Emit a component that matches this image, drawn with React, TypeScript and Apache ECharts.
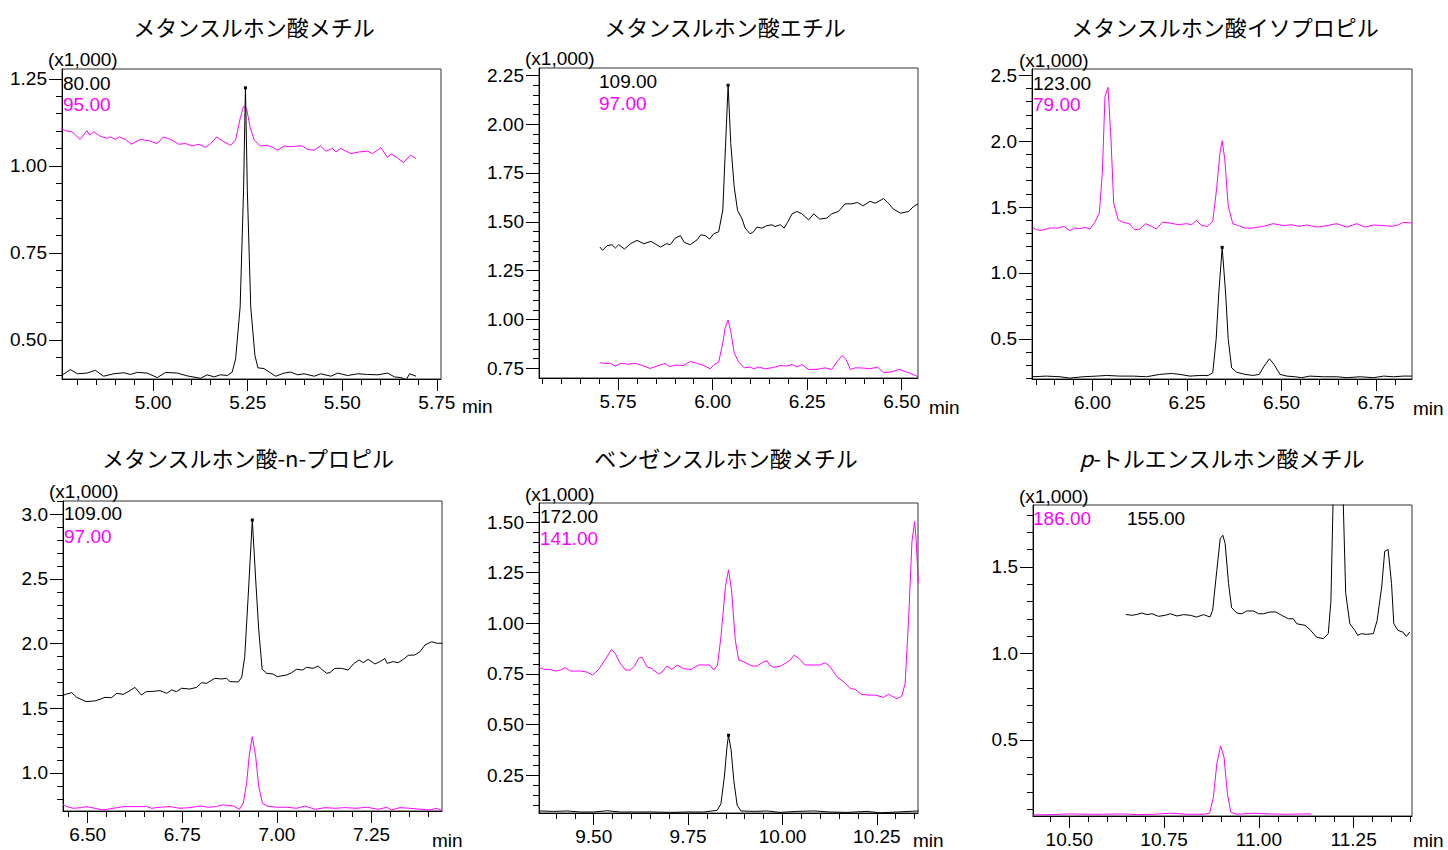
import React, { useEffect, useRef } from "react";
import * as echarts from "echarts";

// ---------- titles / labels ----------
const titles = [
  "メタンスルホン酸メチル",
  "メタンスルホン酸エチル",
  "メタンスルホン酸イソプロピル",
  "メタンスルホン酸-n-プロピル",
  "ベンゼンスルホン酸メチル",
  "{i|p}-トルエンスルホン酸メチル",
];
const multiplierLabel = "(x1,000)";
const blackIons = ["80.00", "109.00", "123.00", "109.00", "172.00", "155.00"];
const magentaIons = ["95.00", "97.00", "79.00", "97.00", "141.00", "186.00"];

// ---------- axis ranges & tick labels ----------
const xRanges = [
  [4.759, 5.761],
  [5.541, 6.543],
  [5.84, 6.845],
  [6.435, 7.436],
  [9.355, 10.359],
  [10.404, 11.404],
];
const yRanges = [
  [0.388, 1.278],
  [0.701, 2.287],
  [0.195, 2.548],
  [0.706, 3.103],
  [0.063, 1.594],
  [0.061, 1.857],
];
const xTickLabels = [
  [5.0, 5.25, 5.5, 5.75],
  [5.75, 6.0, 6.25, 6.5],
  [6.0, 6.25, 6.5, 6.75],
  [6.5, 6.75, 7.0, 7.25],
  [9.5, 9.75, 10.0, 10.25],
  [10.5, 10.75, 11.0, 11.25],
];
const yTickLabels = [
  [0.5, 0.75, 1.0, 1.25],
  [0.75, 1.0, 1.25, 1.5, 1.75, 2.0, 2.25],
  [0.5, 1.0, 1.5, 2.0, 2.5],
  [1.0, 1.5, 2.0, 2.5, 3.0],
  [0.25, 0.5, 0.75, 1.0, 1.25, 1.5],
  [0.5, 1.0, 1.5],
];
const yDecimals = [2, 2, 1, 1, 2, 1];
const yMinorStep = [0.05, 0.05, 0.1, 0.1, 0.05, 0.1];
const xMinorStep = 0.05;

// ---------- series data [min, intensity x1000] ----------
const p1Black = [
  [4.758, 0.398], [4.781, 0.415], [4.8, 0.403], [4.825, 0.405], [4.847, 0.413], [4.869, 0.396],
  [4.896, 0.403], [4.922, 0.406], [4.94, 0.401], [4.958, 0.407], [4.984, 0.405], [5.011, 0.392],
  [5.033, 0.407], [5.064, 0.405], [5.09, 0.397], [5.125, 0.39], [5.143, 0.4], [5.161, 0.394],
  [5.178, 0.4], [5.196, 0.398], [5.209, 0.408], [5.218, 0.446], [5.23, 0.595], [5.239, 0.93],
  [5.244, 1.224], [5.249, 0.93], [5.258, 0.595], [5.269, 0.456], [5.277, 0.42], [5.293, 0.418],
  [5.307, 0.408], [5.324, 0.396], [5.346, 0.405], [5.364, 0.408], [5.382, 0.4], [5.399, 0.403],
  [5.426, 0.396], [5.443, 0.403], [5.47, 0.396], [5.488, 0.405], [5.514, 0.398], [5.541, 0.403],
  [5.567, 0.401], [5.594, 0.4], [5.62, 0.405], [5.638, 0.394], [5.655, 0.392], [5.669, 0.386],
  [5.678, 0.403], [5.695, 0.396],
];
const p1Magenta = [
  [4.758, 1.107], [4.768, 1.101], [4.785, 1.098], [4.807, 1.076], [4.825, 1.101], [4.832, 1.088],
  [4.843, 1.098], [4.86, 1.085], [4.878, 1.079], [4.887, 1.083], [4.9, 1.076], [4.911, 1.083],
  [4.927, 1.076], [4.942, 1.062], [4.966, 1.076], [4.989, 1.072], [5.011, 1.064], [5.027, 1.083],
  [5.046, 1.076], [5.068, 1.062], [5.086, 1.064], [5.103, 1.057], [5.121, 1.062], [5.139, 1.053],
  [5.152, 1.064], [5.168, 1.083], [5.187, 1.069], [5.205, 1.059], [5.218, 1.074], [5.23, 1.136],
  [5.239, 1.171], [5.247, 1.165], [5.256, 1.112], [5.267, 1.074], [5.283, 1.057], [5.302, 1.059],
  [5.316, 1.053], [5.329, 1.045], [5.346, 1.057], [5.364, 1.055], [5.382, 1.057], [5.395, 1.057],
  [5.408, 1.047], [5.426, 1.045], [5.442, 1.057], [5.457, 1.042], [5.474, 1.05], [5.483, 1.04],
  [5.496, 1.05], [5.523, 1.035], [5.545, 1.04], [5.567, 1.042], [5.58, 1.035], [5.602, 1.052],
  [5.62, 1.024], [5.629, 1.034], [5.642, 1.026], [5.662, 1.009], [5.68, 1.031], [5.695, 1.021],
];
const p2Black = [
  [5.702, 1.371], [5.709, 1.354], [5.721, 1.378], [5.734, 1.383], [5.743, 1.366], [5.752, 1.383],
  [5.767, 1.361], [5.783, 1.388], [5.8, 1.405], [5.818, 1.388], [5.837, 1.4], [5.862, 1.371],
  [5.878, 1.388], [5.888, 1.383], [5.901, 1.417], [5.915, 1.429], [5.925, 1.395], [5.941, 1.383],
  [5.959, 1.408], [5.969, 1.434], [5.981, 1.429], [5.992, 1.412], [6.003, 1.439], [6.016, 1.449],
  [6.027, 1.561], [6.034, 1.884], [6.041, 2.199], [6.048, 1.901], [6.057, 1.68], [6.066, 1.558],
  [6.077, 1.519], [6.086, 1.468], [6.099, 1.439], [6.108, 1.449], [6.117, 1.473], [6.13, 1.468],
  [6.143, 1.48], [6.157, 1.485], [6.165, 1.476], [6.179, 1.485], [6.189, 1.468], [6.198, 1.497],
  [6.21, 1.541], [6.223, 1.553], [6.236, 1.541], [6.254, 1.51], [6.267, 1.541], [6.283, 1.514],
  [6.302, 1.519], [6.315, 1.541], [6.333, 1.553], [6.35, 1.592], [6.368, 1.592], [6.383, 1.599],
  [6.398, 1.582], [6.416, 1.605], [6.43, 1.595], [6.452, 1.619], [6.465, 1.595], [6.478, 1.565],
  [6.497, 1.544], [6.518, 1.553], [6.531, 1.578], [6.543, 1.592],
];
const p2Magenta = [
  [5.702, 0.779], [5.712, 0.776], [5.73, 0.776], [5.743, 0.762], [5.756, 0.776], [5.778, 0.772],
  [5.796, 0.776], [5.818, 0.762], [5.835, 0.75], [5.853, 0.762], [5.875, 0.776], [5.886, 0.759],
  [5.901, 0.767], [5.923, 0.765], [5.941, 0.786], [5.959, 0.776], [5.976, 0.765], [5.994, 0.748],
  [6.004, 0.77], [6.016, 0.782], [6.027, 0.881], [6.033, 0.957], [6.041, 0.997], [6.048, 0.94],
  [6.057, 0.83], [6.069, 0.782], [6.084, 0.753], [6.099, 0.757], [6.109, 0.748], [6.121, 0.757],
  [6.139, 0.748], [6.161, 0.755], [6.179, 0.765], [6.196, 0.762], [6.21, 0.77], [6.223, 0.757],
  [6.236, 0.77], [6.254, 0.745], [6.276, 0.745], [6.298, 0.753], [6.315, 0.745], [6.33, 0.787],
  [6.342, 0.816], [6.353, 0.796], [6.364, 0.745], [6.377, 0.753], [6.399, 0.752], [6.416, 0.748],
  [6.436, 0.757], [6.452, 0.728], [6.474, 0.733], [6.494, 0.745], [6.513, 0.731], [6.531, 0.719],
  [6.543, 0.707],
];
const p3Black = [
  [5.841, 0.212], [5.878, 0.217], [5.914, 0.212], [5.94, 0.202], [5.975, 0.212], [6.011, 0.217],
  [6.037, 0.222], [6.072, 0.217], [6.108, 0.217], [6.143, 0.212], [6.178, 0.23], [6.209, 0.237],
  [6.231, 0.23], [6.258, 0.217], [6.284, 0.222], [6.306, 0.222], [6.318, 0.242], [6.327, 0.495],
  [6.334, 0.848], [6.343, 1.194], [6.352, 0.848], [6.359, 0.495], [6.368, 0.28], [6.381, 0.247],
  [6.403, 0.23], [6.425, 0.222], [6.441, 0.23], [6.454, 0.293], [6.468, 0.348], [6.48, 0.306],
  [6.496, 0.23], [6.514, 0.217], [6.536, 0.212], [6.553, 0.205], [6.575, 0.217], [6.611, 0.212],
  [6.646, 0.212], [6.673, 0.205], [6.708, 0.212], [6.743, 0.205], [6.77, 0.217], [6.796, 0.212],
  [6.822, 0.217], [6.845, 0.217],
];
const p3Magenta = [
  [5.841, 1.348], [5.852, 1.328], [5.865, 1.323], [5.887, 1.341], [5.909, 1.341], [5.924, 1.354],
  [5.94, 1.321], [5.953, 1.341], [5.966, 1.336], [5.98, 1.346], [5.993, 1.333], [6.006, 1.384],
  [6.018, 1.455], [6.026, 1.758], [6.033, 2.338], [6.041, 2.409], [6.049, 2.01], [6.056, 1.53],
  [6.068, 1.404], [6.081, 1.384], [6.097, 1.374], [6.112, 1.328], [6.125, 1.333], [6.141, 1.374],
  [6.156, 1.354], [6.169, 1.333], [6.185, 1.386], [6.205, 1.379], [6.227, 1.366], [6.249, 1.374],
  [6.262, 1.366], [6.275, 1.399], [6.289, 1.359], [6.304, 1.354], [6.318, 1.391], [6.328, 1.631],
  [6.337, 1.909], [6.343, 2.003], [6.35, 1.859], [6.359, 1.505], [6.371, 1.374], [6.386, 1.359],
  [6.403, 1.341], [6.425, 1.341], [6.452, 1.354], [6.478, 1.374], [6.505, 1.359], [6.527, 1.366],
  [6.545, 1.354], [6.567, 1.364], [6.593, 1.348], [6.62, 1.359], [6.646, 1.374], [6.673, 1.348],
  [6.699, 1.374], [6.721, 1.348], [6.743, 1.364], [6.77, 1.359], [6.792, 1.354], [6.809, 1.366],
  [6.822, 1.384], [6.845, 1.379],
];
const p4Black = [
  [6.435, 1.6], [6.445, 1.611], [6.458, 1.621], [6.471, 1.585], [6.496, 1.552], [6.519, 1.557],
  [6.533, 1.57], [6.546, 1.585], [6.563, 1.582], [6.577, 1.616], [6.594, 1.608], [6.612, 1.637],
  [6.625, 1.662], [6.642, 1.603], [6.655, 1.629], [6.673, 1.631], [6.691, 1.637], [6.709, 1.616],
  [6.722, 1.642], [6.735, 1.629], [6.748, 1.655], [6.77, 1.649], [6.788, 1.662], [6.801, 1.698],
  [6.814, 1.693], [6.836, 1.732], [6.854, 1.727], [6.867, 1.732], [6.876, 1.706], [6.898, 1.704],
  [6.907, 1.74], [6.915, 1.899], [6.924, 2.363], [6.935, 2.956], [6.944, 2.492], [6.952, 2.106],
  [6.961, 1.802], [6.973, 1.771], [6.99, 1.765], [7.001, 1.745], [7.026, 1.758], [7.039, 1.776],
  [7.052, 1.802], [7.068, 1.796], [7.078, 1.817], [7.096, 1.809], [7.109, 1.827], [7.118, 1.802],
  [7.131, 1.771], [7.14, 1.776], [7.153, 1.809], [7.171, 1.809], [7.188, 1.796], [7.202, 1.843],
  [7.217, 1.874], [7.228, 1.853], [7.241, 1.879], [7.259, 1.843], [7.272, 1.861], [7.285, 1.884],
  [7.291, 1.848], [7.307, 1.861], [7.32, 1.853], [7.334, 1.879], [7.347, 1.91], [7.364, 1.912],
  [7.378, 1.938], [7.391, 1.99], [7.409, 2.015], [7.422, 2.003], [7.437, 2.003],
];
const p4Magenta = [
  [6.435, 0.758], [6.445, 0.74], [6.462, 0.727], [6.484, 0.732], [6.497, 0.74], [6.519, 0.727],
  [6.541, 0.714], [6.568, 0.727], [6.594, 0.74], [6.621, 0.74], [6.656, 0.74], [6.669, 0.727],
  [6.691, 0.735], [6.718, 0.74], [6.744, 0.727], [6.77, 0.732], [6.801, 0.745], [6.818, 0.735],
  [6.84, 0.74], [6.858, 0.753], [6.885, 0.745], [6.901, 0.719], [6.911, 0.765], [6.92, 0.92],
  [6.927, 1.139], [6.935, 1.281], [6.944, 1.126], [6.952, 0.894], [6.962, 0.765], [6.973, 0.745],
  [6.999, 0.735], [7.026, 0.735], [7.052, 0.727], [7.074, 0.745], [7.101, 0.719], [7.127, 0.732],
  [7.153, 0.727], [7.18, 0.732], [7.21, 0.727], [7.237, 0.735], [7.268, 0.719], [7.29, 0.735],
  [7.303, 0.714], [7.325, 0.732], [7.351, 0.727], [7.382, 0.719], [7.404, 0.714], [7.422, 0.727],
  [7.437, 0.709],
];
const p5Black = [
  [9.355, 0.073], [9.394, 0.071], [9.429, 0.073], [9.465, 0.068], [9.5, 0.068], [9.535, 0.074],
  [9.571, 0.068], [9.615, 0.068], [9.659, 0.068], [9.703, 0.066], [9.747, 0.068], [9.791, 0.068],
  [9.827, 0.076], [9.837, 0.109], [9.846, 0.241], [9.853, 0.389], [9.857, 0.447], [9.864, 0.373],
  [9.871, 0.224], [9.88, 0.101], [9.89, 0.073], [9.924, 0.071], [9.959, 0.073], [9.994, 0.066],
  [10.038, 0.071], [10.083, 0.073], [10.127, 0.068], [10.171, 0.066], [10.224, 0.071], [10.259, 0.064],
  [10.303, 0.068], [10.36, 0.073],
];
const p5Magenta = [
  [9.355, 0.782], [9.368, 0.772], [9.385, 0.772], [9.399, 0.764], [9.412, 0.769], [9.425, 0.781],
  [9.438, 0.764], [9.465, 0.764], [9.482, 0.759], [9.497, 0.744], [9.513, 0.772], [9.531, 0.822],
  [9.547, 0.871], [9.557, 0.851], [9.569, 0.805], [9.584, 0.769], [9.597, 0.769], [9.608, 0.789],
  [9.619, 0.827], [9.628, 0.832], [9.641, 0.785], [9.654, 0.777], [9.672, 0.749], [9.681, 0.759],
  [9.694, 0.789], [9.707, 0.772], [9.721, 0.794], [9.738, 0.776], [9.758, 0.772], [9.778, 0.794],
  [9.791, 0.794], [9.807, 0.794], [9.818, 0.769], [9.828, 0.794], [9.837, 0.934], [9.849, 1.182],
  [9.857, 1.264], [9.865, 1.165], [9.875, 0.917], [9.884, 0.818], [9.897, 0.81], [9.919, 0.789],
  [9.933, 0.789], [9.946, 0.805], [9.959, 0.815], [9.966, 0.794], [9.977, 0.782], [9.996, 0.789],
  [10.01, 0.805], [10.019, 0.815], [10.031, 0.843], [10.043, 0.827], [10.06, 0.794], [10.083, 0.794],
  [10.1, 0.794], [10.113, 0.805], [10.125, 0.789], [10.144, 0.736], [10.162, 0.711], [10.18, 0.678],
  [10.193, 0.673], [10.208, 0.65], [10.228, 0.645], [10.246, 0.645], [10.268, 0.634], [10.281, 0.65],
  [10.29, 0.64], [10.303, 0.627], [10.316, 0.64], [10.325, 0.703], [10.334, 1.017], [10.343, 1.404],
  [10.35, 1.503], [10.354, 1.413], [10.36, 1.198],
];
const p6Black = [
  [10.649, 1.225], [10.665, 1.22], [10.678, 1.225], [10.691, 1.233], [10.705, 1.224], [10.718, 1.229],
  [10.735, 1.214], [10.753, 1.22], [10.766, 1.229], [10.784, 1.216], [10.801, 1.224], [10.819, 1.22],
  [10.836, 1.21], [10.854, 1.224], [10.871, 1.21], [10.878, 1.249], [10.889, 1.48], [10.898, 1.663],
  [10.905, 1.682], [10.911, 1.634], [10.92, 1.403], [10.928, 1.264], [10.942, 1.233], [10.955, 1.229],
  [10.968, 1.245], [10.986, 1.245], [10.999, 1.229], [11.012, 1.229], [11.029, 1.239], [11.045, 1.239],
  [11.06, 1.22], [11.078, 1.2], [11.091, 1.2], [11.1, 1.171], [11.122, 1.162], [11.135, 1.137],
  [11.152, 1.094], [11.17, 1.085], [11.183, 1.114], [11.19, 1.3], [11.197, 2.0], [11.209, 2.6],
  [11.221, 2.0], [11.229, 1.35], [11.24, 1.171], [11.253, 1.133], [11.261, 1.104], [11.27, 1.114],
  [11.284, 1.11], [11.302, 1.114], [11.312, 1.191], [11.324, 1.383], [11.332, 1.59], [11.341, 1.6],
  [11.35, 1.403], [11.356, 1.171], [11.367, 1.133], [11.38, 1.123], [11.389, 1.098], [11.398, 1.123],
];
const p6Magenta = [
  [10.404, 0.067], [10.45, 0.069], [10.503, 0.073], [10.547, 0.071], [10.59, 0.071], [10.643, 0.073],
  [10.678, 0.069], [10.722, 0.071], [10.766, 0.077], [10.81, 0.071], [10.854, 0.071], [10.87, 0.077],
  [10.88, 0.17], [10.889, 0.362], [10.899, 0.466], [10.908, 0.401], [10.917, 0.189], [10.926, 0.083],
  [10.942, 0.071], [10.986, 0.077], [11.029, 0.073], [11.073, 0.071], [11.117, 0.073], [11.139, 0.073],
];

const blackSeries = [p1Black, p2Black, p3Black, p4Black, p5Black, p6Black];
const magentaSeries = [p1Magenta, p2Magenta, p3Magenta, p4Magenta, p5Magenta, p6Magenta];

// ---------- layout (pixels) ----------
const grids = [
  { left: 62, top: 69, width: 379, height: 310 },
  { left: 539, top: 68, width: 379, height: 310 },
  { left: 1032, top: 69, width: 380, height: 310 },
  { left: 63, top: 501, width: 379, height: 310 },
  { left: 539, top: 503, width: 379, height: 310 },
  { left: 1033, top: 505, width: 379, height: 311 },
];
const titlePos = [[254, 26], [725, 26], [1225, 26], [248, 457], [726, 457], [1222, 457]];
const multPos = [[48, 59], [525, 58], [1019, 60], [49, 491], [525, 494], [1019, 496]];
const blackIonPos = [[63, 83], [599, 81], [1033, 83], [64, 513], [540, 516], [1127, 518]];
const magentaIonPos = [[63, 104], [599, 103], [1033, 104], [64, 536], [540, 538], [1033, 518]];
const minPos = [[462, 406], [929, 407], [1413, 408], [432, 840], [913, 840], [1413, 840]];

const FONT = '"Noto Sans CJK JP", "Liberation Sans", sans-serif';
const NUMFONT = '"Liberation Sans", "Noto Sans CJK JP", sans-serif';
const NUMSIZE = 19;
const BLACK = "#000000";
const MAGENTA = "#ff00ff";

function minorTicks(lo: number, hi: number, step: number) {
  const out: number[] = [];
  const k0 = Math.ceil(lo / step - 1e-9);
  const k1 = Math.floor(hi / step + 1e-9);
  for (let k = k0; k <= k1; k++) out.push(Math.round(k * step * 10000) / 10000);
  return out;
}

function buildOption() {
  const grid: any[] = [];
  const xAxis: any[] = [];
  const yAxis: any[] = [];
  const series: any[] = [];
  const graphic: any[] = [];

  for (let i = 0; i < 6; i++) {
    grid.push({
      ...grids[i],
      show: true,
      borderColor: "#333",
      borderWidth: 1,
      backgroundColor: "transparent",
      containLabel: false,
    });
    const [x0, x1] = xRanges[i];
    const [y0, y1] = yRanges[i];
    xAxis.push({
      type: "value",
      gridIndex: i,
      min: x0,
      max: x1,
      position: "bottom",
      axisLine: { show: true, lineStyle: { color: BLACK, width: 1 } },
      axisTick: { show: true, customValues: xTickLabels[i], length: 12, inside: false, lineStyle: { color: BLACK } },
      axisLabel: {
        customValues: xTickLabels[i],
        formatter: (v: number) => v.toFixed(2),
        fontFamily: NUMFONT,
        fontSize: NUMSIZE,
        color: BLACK,
        margin: 14,
      },
      splitLine: { show: false },
    });
    xAxis.push({
      type: "value",
      gridIndex: i,
      min: x0,
      max: x1,
      position: "bottom",
      axisLine: { show: false },
      axisTick: { show: true, customValues: minorTicks(x0, x1, xMinorStep), length: 6, lineStyle: { color: BLACK } },
      axisLabel: { show: false },
      splitLine: { show: false },
    });
    const dec = yDecimals[i];
    yAxis.push({
      type: "value",
      gridIndex: i,
      min: y0,
      max: y1,
      position: "left",
      axisLine: { show: true, lineStyle: { color: BLACK, width: 1 } },
      axisTick: { show: true, customValues: yTickLabels[i], length: 13, lineStyle: { color: BLACK } },
      axisLabel: {
        customValues: yTickLabels[i],
        formatter: (v: number) => v.toFixed(dec),
        fontFamily: NUMFONT,
        fontSize: NUMSIZE,
        color: BLACK,
        margin: 15,
      },
      splitLine: { show: false },
    });
    yAxis.push({
      type: "value",
      gridIndex: i,
      min: y0,
      max: y1,
      position: "left",
      axisLine: { show: false },
      axisTick: { show: true, customValues: minorTicks(y0, y1, yMinorStep[i]), length: 6, lineStyle: { color: BLACK } },
      axisLabel: { show: false },
      splitLine: { show: false },
    });

    series.push({
      type: "line",
      xAxisIndex: 2 * i,
      yAxisIndex: 2 * i,
      data: magentaSeries[i],
      showSymbol: false,
      symbol: "none",
      clip: true,
      lineStyle: { color: MAGENTA, width: 1 },
      z: 2,
    });
    series.push({
      type: "line",
      xAxisIndex: 2 * i,
      yAxisIndex: 2 * i,
      data: blackSeries[i],
      showSymbol: false,
      symbol: "none",
      clip: true,
      lineStyle: { color: BLACK, width: 1 },
      z: 3,
      markPoint:
        i === 5
          ? undefined
          : {
              symbol: "rect",
              symbolSize: 3,
              itemStyle: { color: BLACK },
              label: { show: false },
              data: [{ type: "max" }],
            },
    });

    graphic.push({
      type: "text",
      x: titlePos[i][0],
      y: titlePos[i][1],
      style: {
        text: titles[i],
        fill: BLACK,
        fontFamily: FONT,
        fontSize: 22,
        fontWeight: "normal",
        textAlign: "center",
        textVerticalAlign: "middle",
        rich: { i: { fontStyle: "italic", fontFamily: FONT, fontSize: 22, fill: BLACK } },
      },
    });
    graphic.push({
      type: "text",
      x: multPos[i][0],
      y: multPos[i][1],
      style: { text: multiplierLabel, fill: BLACK, fontFamily: NUMFONT, fontSize: NUMSIZE, textAlign: "left", textVerticalAlign: "middle" },
    });
    graphic.push({
      type: "text",
      x: blackIonPos[i][0],
      y: blackIonPos[i][1],
      style: { text: blackIons[i], fill: BLACK, fontFamily: NUMFONT, fontSize: NUMSIZE, textAlign: "left", textVerticalAlign: "middle" },
    });
    graphic.push({
      type: "text",
      x: magentaIonPos[i][0],
      y: magentaIonPos[i][1],
      style: { text: magentaIons[i], fill: MAGENTA, fontFamily: NUMFONT, fontSize: NUMSIZE, textAlign: "left", textVerticalAlign: "middle" },
    });
    graphic.push({
      type: "text",
      x: minPos[i][0],
      y: minPos[i][1],
      style: { text: "min", fill: BLACK, fontFamily: NUMFONT, fontSize: NUMSIZE, textAlign: "left", textVerticalAlign: "middle" },
    });
  }

  return {
    animation: false,
    backgroundColor: "#ffffff",
    grid,
    xAxis,
    yAxis,
    series,
    graphic,
  };
}

export default function App() {
  const ref = useRef<HTMLDivElement>(null);
  useEffect(() => {
    if (!ref.current) return;
    const chart = echarts.init(ref.current, undefined, { renderer: "svg" });
    chart.setOption(buildOption() as any);
    return () => chart.dispose();
  }, []);
  return (
    <div
      ref={ref}
      style={{ position: "fixed", left: 0, top: 0, width: 1448, height: 850, background: "#fff" }}
    />
  );
}
